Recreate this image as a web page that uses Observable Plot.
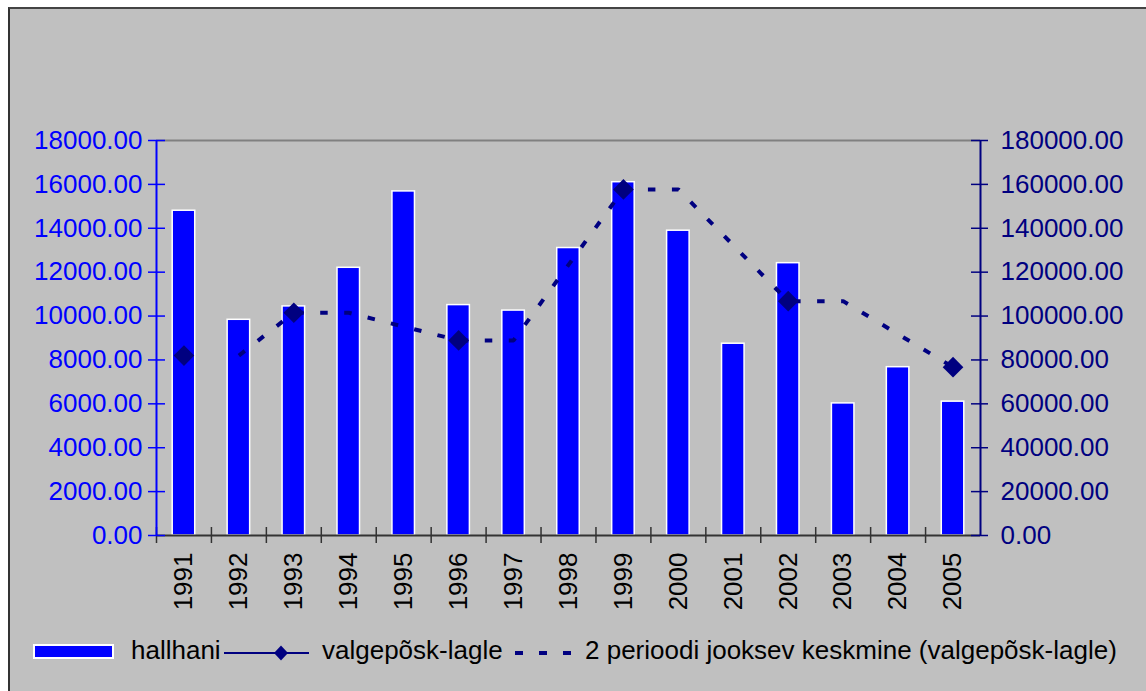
<!DOCTYPE html>
<html><head><meta charset="utf-8">
<script src="https://cdn.jsdelivr.net/npm/d3@7"></script>
<script src="https://cdn.jsdelivr.net/npm/@observablehq/plot@0.6"></script>
<style>
html,body{margin:0;padding:0;background:#fff;width:1146px;height:691px;overflow:hidden;}
#bg{position:absolute;left:8px;top:7px;width:1200px;height:760px;background:#c0c0c0;border-left:2px solid #333;border-top:2px solid #444;}
#chart{position:absolute;left:0;top:0;}
#legend{position:absolute;left:0;top:620px;}
</style></head><body>
<div id="bg"></div><div id="chart"></div><div id="legend"></div>
<script>
const years = ["1991","1992","1993","1994","1995","1996","1997","1998","1999","2000","2001","2002","2003","2004","2005"];
const hallhani = [14800, 9830, 10440, 12200, 15680, 10500, 10250, 13100, 16100, 13890, 8740, 12410, 6020, 7670, 6100];
const lagle = [82000, null, 101500, null, null, 88900, null, null, 157700, null, null, 106800, null, null, 76700];
const movingAvg = [null, 82000, 101500, 101500, 95200, 88900, 88900, 123300, 157700, 157700, 132250, 106800, 106800, 91750, 76700];
const leftTicks = [0,2000,4000,6000,8000,10000,12000,14000,16000,18000];
const rightTicks = [0,20000,40000,60000,80000,100000,120000,140000,160000,180000];
const seriesNames = ["hallhani", "valgepõsk-lagle", "2 perioodi jooksev keskmine (valgepõsk-lagle)"];

const ratio = 10; // right axis max / left axis max
const data = years.map((y, i) => ({year: y, hallhani: hallhani[i], lagle: lagle[i], ma: movingAvg[i]}));

const W = 1146, H = 620, mL = 156, mR = 166, mT = 140, mB = 85;
const frameW = W - mL - mR;
const step = frameW / years.length;
const yPerPx = 18000 / (H - mT - mB);
const font = "'Liberation Sans', Arial, Helvetica, sans-serif";
const BLUE = "#0000ff", NAVY = "#000080";

const plot = Plot.plot({
  width: W, height: H,
  marginLeft: mL, marginRight: mR, marginTop: mT, marginBottom: mB,
  style: {background: "transparent", fontFamily: font, fontSize: "26px", overflow: "visible"},
  x: {type: "band", domain: years, paddingInner: 0.59, paddingOuter: 0.295, round: false, axis: null},
  y: {domain: [0, 18000], axis: null},
  marks: [
    Plot.ruleY([18000], {stroke: "#808080", strokeWidth: 2}),
    Plot.barY(data, {x: "year", y: "hallhani", fill: BLUE, stroke: "white", strokeWidth: 1.5}),
    Plot.ruleY([0], {stroke: "#333", strokeWidth: 2}),
    Plot.ruleX(years, {x: d => d, dx: -step / 2, y1: -8 * yPerPx, y2: 8 * yPerPx, stroke: "#333", strokeWidth: 1.5}),
    Plot.ruleX([years[0]], {x: d => d, dx: -step / 2, y1: 0, y2: 18000, stroke: BLUE, strokeWidth: 2}),
    Plot.ruleX([years[years.length - 1]], {x: d => d, dx: step / 2, y1: 0, y2: 18000, stroke: NAVY, strokeWidth: 2}),
    Plot.ruleY(leftTicks, {y: d => d, insetRight: frameW - 17, dx: -8, stroke: BLUE, strokeWidth: 1.5}),
    Plot.ruleY(rightTicks, {y: d => d / ratio, insetLeft: frameW - 17, dx: 8, stroke: NAVY, strokeWidth: 1.5}),
    Plot.axisY({anchor: "left", ticks: leftTicks, tickFormat: d => d.toFixed(2), tickSize: 0, tickPadding: 14, color: BLUE, fill: BLUE, fontSize: 26, label: null}),
    Plot.axisY({anchor: "right", ticks: rightTicks.map(d => d / ratio), tickFormat: d => (d * ratio).toFixed(2), tickSize: 0, tickPadding: 20, color: NAVY, fill: NAVY, fontSize: 26, label: null}),
    Plot.axisX({tickRotate: -90, tickSize: 0, tickPadding: 17, fontSize: 26, color: "black", fill: "black", label: null}),
    Plot.line(data, {x: "year", y: d => d.ma == null ? NaN : d.ma / ratio, stroke: NAVY, strokeWidth: 4, strokeDasharray: "7.5,16.5", strokeLinecap: "butt"}),
    Plot.dot(data, {x: "year", y: d => d.lagle == null ? NaN : d.lagle / ratio, symbol: "diamond2", r: 9.3, fill: NAVY, stroke: "none"})
  ]
});
document.getElementById("chart").appendChild(plot);

// legend
const lg = d3.select("#legend").append("svg").attr("width", W).attr("height", 71)
  .style("font-family", font).style("font-size", "26px");
lg.append("rect").attr("x", 34).attr("y", 25).attr("width", 79).attr("height", 13)
  .attr("fill", BLUE).attr("stroke", "white").attr("stroke-width", 2);
lg.append("text").attr("x", 131).attr("y", 39).attr("fill", "black").text(seriesNames[0]);
lg.append("line").attr("x1", 224).attr("x2", 309).attr("y1", 33).attr("y2", 33).attr("stroke", NAVY).attr("stroke-width", 2);
lg.append("path").attr("d", "M281,25.5L288,33L281,40.5L274,33Z").attr("fill", NAVY);
lg.append("text").attr("x", 322).attr("y", 39).attr("fill", "black").text(seriesNames[1]);
lg.append("line").attr("x1", 515).attr("x2", 572).attr("y1", 33).attr("y2", 33).attr("stroke", NAVY)
  .attr("stroke-width", 4).attr("stroke-dasharray", "8,16");
lg.append("text").attr("x", 585).attr("y", 39).attr("fill", "black").text(seriesNames[2]);
</script>
</body></html>
